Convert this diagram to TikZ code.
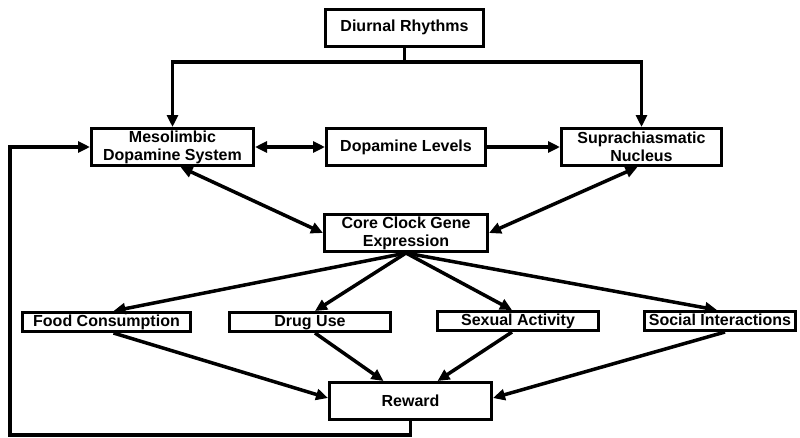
\documentclass[tikz,border=0pt]{standalone}
\usepackage{fontspec}
\setmainfont{Liberation Sans}
\usetikzlibrary{arrows.meta}
\begin{document}
\begin{tikzpicture}[x=1pt,y=-1pt,
  box/.style={draw=black, line width=3pt, fill=white, align=center, inner sep=0pt,
    font=\bfseries\fontsize{16}{18}\selectfont},
  tallbox/.style={box, minimum height=37pt},
  flatbox/.style={box, minimum height=19pt, text height=11.5pt, text depth=3.5pt},
  arr/.style={line width=3.5pt, -{Triangle[length=12pt,width=11pt]}},
  darr/.style={line width=3.5pt, {Triangle[length=12pt,width=11pt]}-{Triangle[length=12pt,width=11pt]}}]
\useasboundingbox[fill=white] (0,0) rectangle (800,437);

\node[tallbox, minimum width=158pt] (diurnal) at (404.5,27.5) {Diurnal Rhythms};
\node[tallbox, minimum width=162pt] (meso) at (172.5,147) {Mesolimbic\\Dopamine System};
\node[tallbox, minimum width=159pt] (dopa) at (406,147) {Dopamine Levels};
\node[tallbox, minimum width=160pt] (scn) at (641.5,147) {Suprachiasmatic\\Nucleus};
\node[tallbox, minimum width=163pt] (core) at (406,233) {Core Clock Gene\\Expression};
\node[flatbox, minimum width=168pt] (food) at (106.5,322) {Food Consumption};
\node[flatbox, minimum width=161pt] (drug) at (310,322) {Drug Use};
\node[flatbox, minimum width=161pt] (sex) at (518,321) {Sexual Activity};
\node[flatbox, minimum width=151pt] (social) at (720,321) {Social Interactions};
\node[tallbox, minimum width=162pt] (reward) at (410.5,401) {Reward};

\coordinate (split) at (404.5,62);
\coordinate (fbl) at (10,435);

\draw[line width=3.5pt] (diurnal.south) -- (split);
\draw[arr] (split) -| (meso.north);
\draw[arr] (split) -| (scn.north);

\draw[darr] (meso.east) -- (dopa.west);
\draw[arr] (dopa.east) -- (scn.west);
\draw[darr] ([xshift=8pt]meso.south) -- (core.west);
\draw[darr] ([xshift=-4pt]scn.south) -- (core.east);

\draw[arr] (core.south) -- ([xshift=7pt]food.north);
\draw[arr] (core.south) -- ([xshift=5pt]drug.north);
\draw[arr] (core.south) -- ([xshift=-6pt]sex.north);
\draw[arr] (core.south) -- ([xshift=-3pt]social.north);

\draw[arr] ([xshift=7pt]food.south) -- ([yshift=3pt]reward.west);
\draw[arr] ([xshift=5pt]drug.south) -- ([xshift=-27pt]reward.north);
\draw[arr] ([xshift=-6pt]sex.south) -- ([xshift=27pt]reward.north);
\draw[arr] ([xshift=5pt]social.south) -- ([yshift=3pt]reward.east);

\draw[arr] (reward.south) |- (fbl) |- (meso.west);
\end{tikzpicture}
\end{document}
